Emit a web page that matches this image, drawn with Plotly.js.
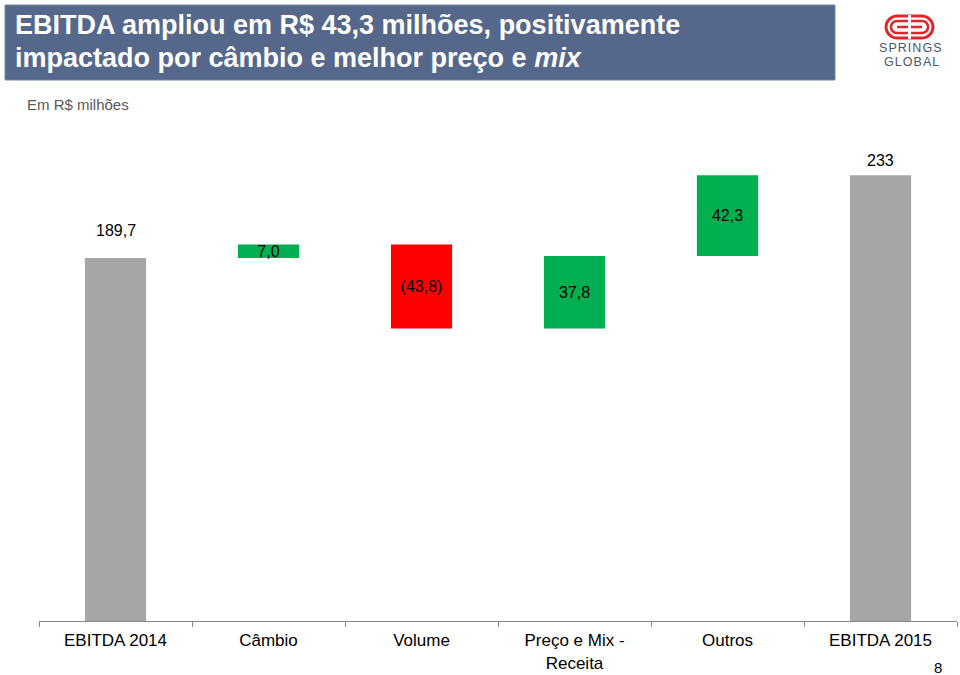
<!DOCTYPE html>
<html>
<head>
<meta charset="utf-8">
<script src="https://cdn.plot.ly/plotly-3.0.1.min.js"></script>
<style>html,body{margin:0;padding:0;background:#fff;}#chart{width:960px;height:675px;}</style>
</head>
<body>
<div id="chart"></div>
<script>
// ---- data ----
const categories = ["EBITDA 2014", "Câmbio", "Volume", "Preço e Mix -<br>Receita", "Outros", "EBITDA 2015"];
const measures = ["absolute", "relative", "relative", "relative", "relative", "total"];
const values = [189.7, 7.0, -43.8, 37.8, 42.3, 0];
const finalTotal = 233;

function fmt(v) {
  const s = Math.abs(v).toFixed(1).replace('.', ',');
  return v < 0 ? "(" + s + ")" : s;
}

// pixel helpers for decorations
const L = 39, R = 957, T = 143, B = 621;
const px = x => (x - L) / (R - L);
const py = y => (B - y) / (B - T);

const FONT = "Liberation Sans, Arial, sans-serif";
const texts = values.map((v, i) => measures[i] === "relative" ? fmt(v) : "");
const textpos = values.map((v, i) => measures[i] === "relative" ? "inside" : "none");

const trace = {
  type: "waterfall",
  x: categories,
  y: values,
  measure: measures,
  text: texts,
  textposition: textpos,
  insidetextanchor: "middle",
  constraintext: "none",
  textfont: {family: FONT, size: 16, color: "#000"},
  insidetextfont: {family: FONT, size: 16, color: "#000"},
  increasing: {marker: {color: "#00B050"}},
  decreasing: {marker: {color: "#FF0000"}},
  totals: {marker: {color: "#A6A6A6"}},
  connector: {visible: false},
  hoverinfo: "none"
};

const ebitda2014 = values[0];
const annotations = [
  {x: categories[0], y: ebitda2014, text: fmt(ebitda2014), showarrow: false, yanchor: "bottom", yshift: 17,
   font: {family: FONT, size: 16, color: "#000"}},
  {x: categories[5], y: finalTotal, text: String(finalTotal), showarrow: false, yanchor: "bottom", yshift: 4,
   font: {family: FONT, size: 16, color: "#000"}},
  // header title
  {xref: "paper", yref: "paper", x: px(13), y: py(25), xanchor: "left", yanchor: "middle", showarrow: false,
   text: "<b>EBITDA ampliou em R$ 43,3 milhões, positivamente</b>",
   font: {family: FONT, size: 27, color: "#fff"}},
  {xref: "paper", yref: "paper", x: px(13), y: py(58), xanchor: "left", yanchor: "middle", showarrow: false,
   text: "<b>impactado por câmbio e melhor preço e <i>mix</i></b>",
   font: {family: FONT, size: 27, color: "#fff"}},
  {xref: "paper", yref: "paper", x: px(25), y: py(104), xanchor: "left", yanchor: "middle", showarrow: false,
   text: "Em R$ milhões",
   font: {family: FONT, size: 15, color: "#595959"}},
  {xref: "paper", yref: "paper", x: px(910), y: py(48), xanchor: "center", yanchor: "middle", showarrow: false,
   text: "S\u200AP\u200AR\u200AI\u200AN\u200AG\u200AS",
   font: {family: FONT, size: 12.5, color: "#4a5566"}},
  {xref: "paper", yref: "paper", x: px(911), y: py(62), xanchor: "center", yanchor: "middle", showarrow: false,
   text: "G\u200AL\u200AO\u200AB\u200AA\u200AL",
   font: {family: FONT, size: 12.5, color: "#4a5566"}},
  {xref: "paper", yref: "paper", x: px(938), y: py(667), xanchor: "center", yanchor: "middle", showarrow: false,
   text: "8",
   font: {family: FONT, size: 15, color: "#000"}}
];

function stadium(x0, y0, x1, y1) {
  const r = (y1 - y0) / 2;
  let pts = [];
  const cy = (y0 + y1) / 2;
  for (let a = -90; a <= 90; a += 15) {
    const rad = a * Math.PI / 180;
    pts.push([x1 - r + r * Math.cos(rad), cy + r * Math.sin(rad)]);
  }
  for (let a = 90; a <= 270; a += 15) {
    const rad = a * Math.PI / 180;
    pts.push([x0 + r + r * Math.cos(rad), cy + r * Math.sin(rad)]);
  }
  return "M " + pts.map(p => px(p[0]) + "," + py(p[1])).join(" L ") + " Z";
}

const shapes = [
  {type: "rect", xref: "paper", yref: "paper", x0: px(5), x1: px(835), y0: py(5), y1: py(80),
   fillcolor: "#55688C", line: {color: "#7585a3", width: 1}, layer: "below"},
  {type: "path", xref: "paper", yref: "paper", path: stadium(886, 16, 933, 38), line: {color: "#E0262B", width: 3}},
  {type: "path", xref: "paper", yref: "paper", path: stadium(891, 21, 928, 33), line: {color: "#E0262B", width: 2.5}},
  {type: "line", xref: "paper", yref: "paper", x0: px(897), x1: px(922), y0: py(27), y1: py(27), line: {color: "#E0262B", width: 2.5}},
  {type: "line", xref: "paper", yref: "paper", x0: px(909.5), x1: px(909.5), y0: py(15), y1: py(39), line: {color: "#fff", width: 3}}
];

const layout = {
  width: 960, height: 675,
  margin: {l: L, r: 960 - R, t: T, b: 675 - B, pad: 0},
  paper_bgcolor: "#fff", plot_bgcolor: "#fff",
  showlegend: false,
  waterfallgap: 0.6,
  xaxis: {
    type: "category",
    range: [-0.5, 5.5],
    showline: true, linecolor: "#888", linewidth: 1,
    ticks: "outside", tickson: "boundaries", ticklen: 5, tickcolor: "#888",
    ticklabelstandoff: 4,
    showgrid: false, zeroline: false,
    tickfont: {family: FONT, size: 17, color: "#000"},
    fixedrange: true
  },
  yaxis: {
    range: [0, 249.8],
    visible: false, showgrid: false, zeroline: false, fixedrange: true
  },
  annotations: annotations,
  shapes: shapes
};

Plotly.newPlot("chart", [trace], layout, {displayModeBar: false, staticPlot: true});
</script>
</body>
</html>
